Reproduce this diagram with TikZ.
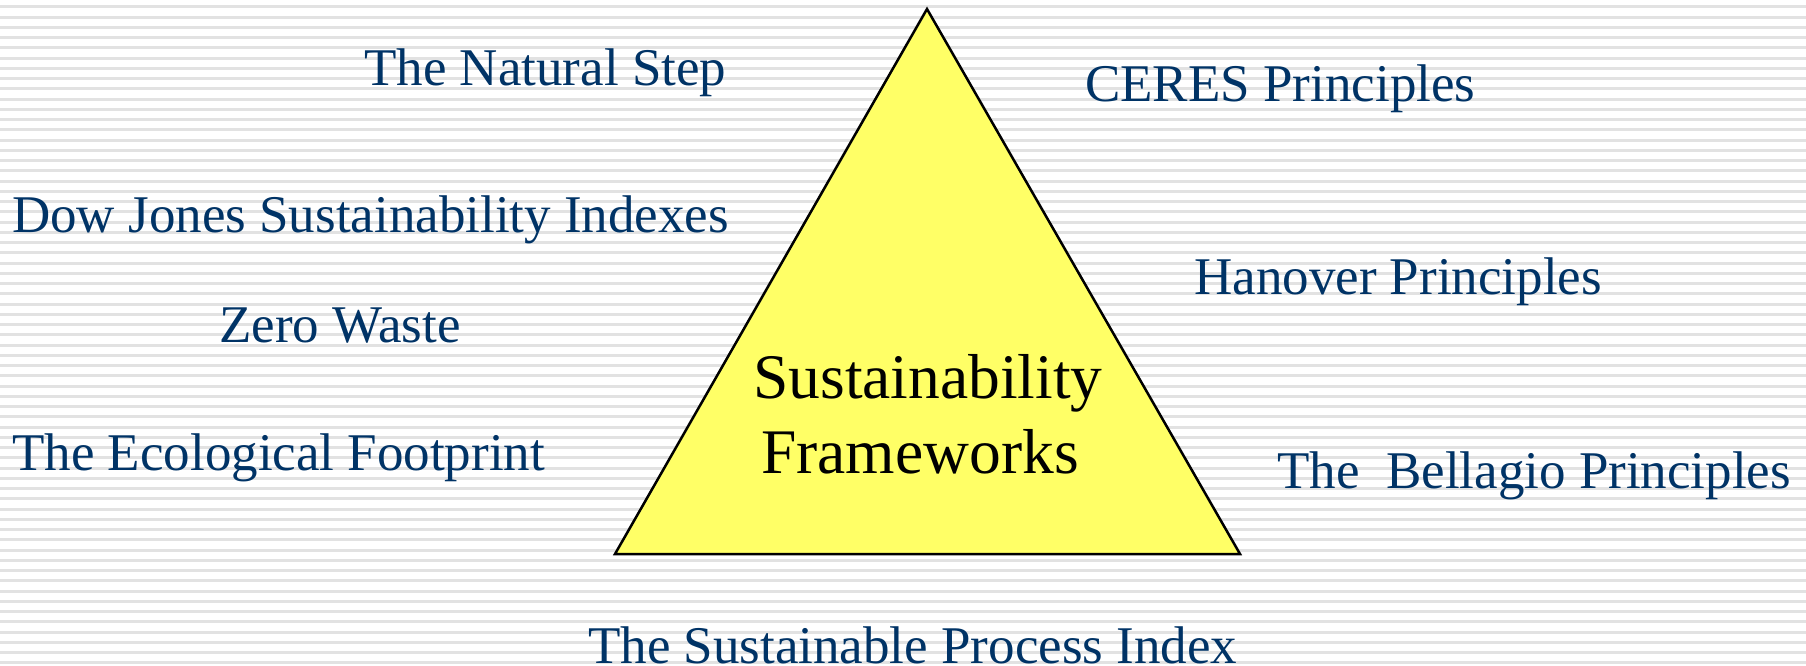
\documentclass[tikz,border=0pt]{standalone}
\usepackage{fontspec}
\setmainfont{Liberation Serif}
\definecolor{txtblue}{HTML}{003366}
\definecolor{stripe}{HTML}{E2E2E2}
\definecolor{triyellow}{HTML}{FFFF66}
\begin{document}
\begin{tikzpicture}[x=1pt,y=-1pt,
  lbl/.style={anchor=base west,inner sep=0pt,text=txtblue,font=\fontsize{53}{60}\selectfont},
  ctr/.style={anchor=base,inner sep=0pt,text=black,font=\fontsize{63.5}{70}\selectfont}]
\useasboundingbox (0,0) rectangle (1806,666);
\fill[white] (0,0) rectangle (1806,666);
\foreach \i in {0,...,64} {
  \fill[stripe] (0,{5.3+10.25*\i}) rectangle (1806,{8.3+10.25*\i});
}
\coordinate (A) at (927,9);
\coordinate (B) at (615,554);
\coordinate (C) at (1240,554);
\filldraw[fill=triyellow,draw=black,line width=2.5pt,line join=miter] (A) -- (B) -- (C) -- cycle;
\node[ctr] (s1) at (928,398) {Sustainability};
\node[ctr] (s2) at (920,473) {Frameworks};
\node[lbl] (t1) at (364,86) {The Natural Step};
\node[lbl] (t2) at (1085,102) {CERES Principles};
\node[lbl] (t3) at (12,232) {Dow Jones Sustainability Indexes};
\node[lbl] (t4) at (1194,294) {Hanover Principles};
\node[lbl] (t5) at (219,342) {Zero Waste};
\node[lbl] (t6) at (12,470) {The Ecological Footprint};
\node[lbl] (t7) at (1277,488) {The\ \ Bellagio Principles};
\node[lbl] (t8) at (588,663) {The Sustainable Process Index};
\end{tikzpicture}
\end{document}
